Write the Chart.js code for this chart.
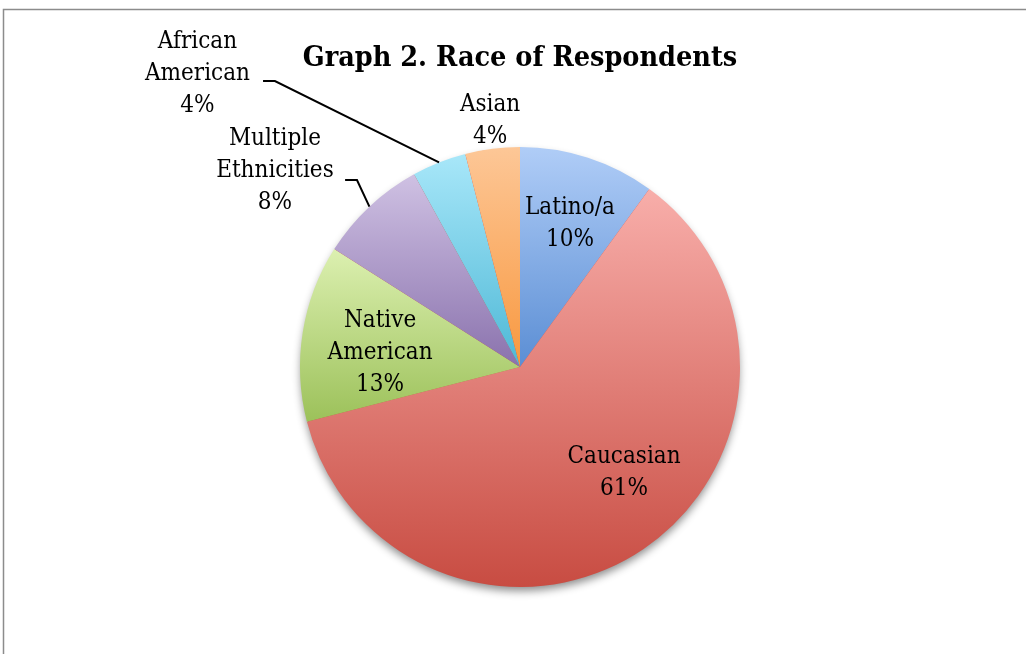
<!DOCTYPE html>
<html>
<head>
<meta charset="utf-8">
<script src="https://cdn.jsdelivr.net/npm/chart.js@4.4.0/dist/chart.umd.min.js"></script>
<style>
  html, body { margin: 0; padding: 0; background: #fff; }
  canvas { display: block; }
</style>
</head>
<body>
<canvas id="chart-pie" width="1026" height="654"></canvas>
<script>
// Datos del gráfico
const categorias = ['Latino/a', 'Caucasian', 'Native American', 'Multiple Ethnicities', 'African American', 'Asian'];
const porcentajes = [10, 61, 13, 8, 4, 4];
const etiquetas = [['Latino/a', '10%'], ['Caucasian', '61%'], ['Native', 'American', '13%'], ['Multiple', 'Ethnicities', '8%'], ['African', 'American', '4%'], ['Asian', '4%']];
const titulo = 'Graph 2. Race of Respondents';

// Colores (arriba / abajo) del degradado de cada porción
const coloresArriba = ['#b0cdf7', '#f8aeaa', '#dcf0b0', '#cfc1e3', '#a8e7f9', '#fdc797'];
const coloresAbajo = ['#5b8ed4', '#c84c42', '#9cc15a', '#8a72ad', '#4eb8d6', '#f8983f'];

// Posición de las etiquetas, en unidades del radio, respecto al centro
const posEtiquetas = [
    { dx: 0.227, dy: -0.65 },
    { dx: 0.473, dy: 0.482 },
    { dx: -0.636, dy: -0.064 },
    { dx: -1.114, dy: -0.891, codo: { dx: -0.741, dy: -0.85 }, fin: -0.795 },
    { dx: -1.466, dy: -1.332, codo: { dx: -1.114, dy: -1.3 }, fin: -1.168 },
    { dx: -0.136, dy: -1.12 }
];

const FUENTE = '"DejaVu Serif Condensed", "DejaVu Serif", serif';

function degradadoPorcion(context) {
    const i = context.dataIndex;
    const chart = context.chart;
    const area = chart.chartArea;
    if (!area) return coloresAbajo[i];
    const cx = (area.left + area.right) / 2;
    const cy = (area.top + area.bottom) / 2;
    const r = Math.min(area.right - area.left, area.bottom - area.top) / 2;
    const total = porcentajes.reduce((a, b) => a + b, 0);
    let antes = 0;
    for (let k = 0; k < i; k++) antes += porcentajes[k];
    const a0 = -Math.PI / 2 + 2 * Math.PI * antes / total;
    const a1 = a0 + 2 * Math.PI * porcentajes[i] / total;
    const ys = [cy, cy + r * Math.sin(a0), cy + r * Math.sin(a1)];
    // puntos extremos arriba/abajo dentro del arco
    [-Math.PI / 2, Math.PI / 2, 3 * Math.PI / 2].forEach(a => {
        if (a >= a0 && a <= a1) ys.push(cy + r * Math.sin(a));
    });
    const yMin = Math.min(...ys);
    const yMax = Math.max(...ys);
    const g = chart.ctx.createLinearGradient(0, yMin, 0, yMax);
    g.addColorStop(0, coloresArriba[i]);
    g.addColorStop(1, coloresAbajo[i]);
    return g;
}

const pluginPastel = {
    id: 'pastelExtras',
    beforeDraw(chart) {
        const c = chart.ctx;
        c.save();
        c.fillStyle = '#fff';
        c.fillRect(0, 0, chart.width, chart.height);
        c.strokeStyle = '#8c8c8c';
        c.lineWidth = 1.5;
        c.strokeRect(3.5, 9.5, chart.width + 20, chart.height + 20);
        c.restore();
    },
    beforeDatasetsDraw(chart) {
        // sombra debajo del pastel
        const arc = chart.getDatasetMeta(0).data[0];
        if (!arc) return;
        const c = chart.ctx;
        c.save();
        c.beginPath();
        c.arc(arc.x, arc.y, arc.outerRadius - 1, 0, Math.PI * 2);
        c.shadowColor = 'rgba(0,0,0,0.45)';
        c.shadowBlur = 9;
        c.shadowOffsetY = 5;
        c.fillStyle = '#c84c42';
        c.fill();
        c.restore();
    },
    afterDatasetsDraw(chart) {
        const meta = chart.getDatasetMeta(0);
        const c = chart.ctx;
        const arc0 = meta.data[0];
        const cx = arc0.x, cy = arc0.y, R = arc0.outerRadius;

        // Título
        c.save();
        c.fillStyle = '#000';
        c.textAlign = 'center';
        c.textBaseline = 'alphabetic';
        c.font = 'bold 28.5px ' + FUENTE;
        c.fillText(titulo, cx, 66);
        c.restore();

        const alto = 32;
        meta.data.forEach((arc, i) => {
            const p = posEtiquetas[i];
            const lx = cx + p.dx * R;
            const ly = cy + p.dy * R;
            const lineas = etiquetas[i];

            // líneas guía
            if (p.codo) {
                const mid = (arc.startAngle + arc.endAngle) / 2;
                const ex = cx + Math.cos(mid) * R;
                const ey = cy + Math.sin(mid) * R;
                const kx = cx + p.codo.dx * R;
                const ky = cy + p.codo.dy * R;
                c.save();
                c.strokeStyle = '#000';
                c.lineWidth = 2;
                c.beginPath();
                c.moveTo(ex, ey);
                c.lineTo(kx, ky);
                c.lineTo(cx + p.fin * R, ky);
                c.stroke();
                c.restore();
            }

            c.save();
            c.fillStyle = '#000';
            c.textAlign = 'center';
            c.textBaseline = 'middle';
            c.font = '24px ' + FUENTE;
            const y0 = ly - (lineas.length - 1) * alto / 2;
            lineas.forEach((t, k) => c.fillText(t, lx, y0 + k * alto));
            c.restore();
        });
    }
};

const ctx = document.getElementById('chart-pie').getContext('2d');
const chartPie = new Chart(ctx, {
    type: 'pie',
    data: {
        labels: categorias,
        datasets: [{
            data: porcentajes,
            backgroundColor: degradadoPorcion,
            borderWidth: 0,
            hoverOffset: 0
        }]
    },
    options: {
        responsive: false,
        animation: false,
        layout: {
            padding: { left: 300, right: 286, top: 147, bottom: 67 }
        },
        plugins: {
            legend: { display: false },
            tooltip: { enabled: false },
            title: { display: false }
        }
    },
    plugins: [pluginPastel]
});
</script>
</body>
</html>
